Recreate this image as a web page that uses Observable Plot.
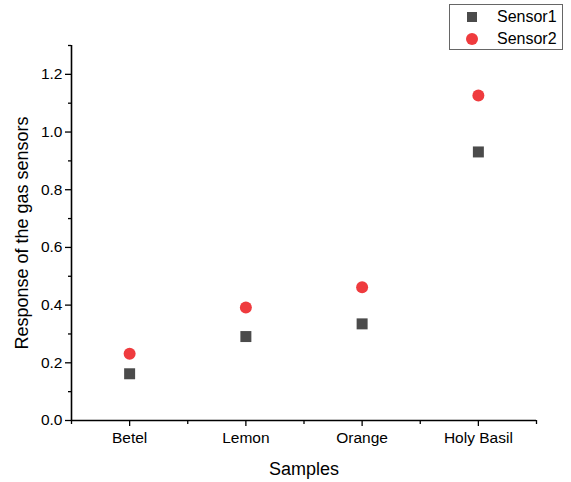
<!DOCTYPE html>
<html>
<head>
<meta charset="utf-8">
<script src="https://cdn.jsdelivr.net/npm/d3@7"></script>
<script src="https://cdn.jsdelivr.net/npm/@observablehq/plot@0.6"></script>
<style>
  body { margin: 0; background: #fff; font-family: "Liberation Sans", Arial, sans-serif; }
  #wrap { position: relative; width: 571px; height: 482px; }
  #legend { position: absolute; left: 449px; top: 4px; width: 114px; height: 46px; border: 1px solid #666; box-sizing: border-box; background: #fff; }
  .item { position: absolute; left: 0; height: 20px; font-size: 16px; line-height: 20px; color: #000; }
  .item svg { position: absolute; left: 15px; top: 3px; }
  .item span { position: absolute; left: 47px; top: 0; white-space: nowrap; }
</style>
</head>
<body>
<div id="wrap"></div>
<script>
const categories = ["Betel", "Lemon", "Orange", "Holy Basil"];
const sensor1 = [0.162, 0.291, 0.335, 0.931];
const sensor2 = [0.231, 0.392, 0.462, 1.127];
const seriesNames = ["Sensor1", "Sensor2"];
const seriesColors = ["#4b4b4b", "#ef3b3e"];
const yMajor = [0, 0.2, 0.4, 0.6, 0.8, 1.0, 1.2];
const yMinor = [0.1, 0.3, 0.5, 0.7, 0.9, 1.1, 1.3];

const idx = categories.map((_, i) => i);
const xMinor = d3.range(-0.5, categories.length, 1);
const font = "Liberation Sans, Arial, sans-serif";

const plot = Plot.plot({
  width: 571,
  height: 482,
  marginLeft: 71,
  marginRight: 35,
  marginTop: 45,
  marginBottom: 62,
  style: { fontFamily: font, fontSize: "15.5px", color: "#000", background: "#fff" },
  x: { type: "linear", domain: [-0.5, categories.length - 0.5] },
  y: { domain: [0, 1.3] },
  marks: [
    Plot.axisX({ ticks: xMinor, tickSize: 4, tickFormat: () => "", label: null, strokeWidth: 1.3 }),
    Plot.axisX({ ticks: idx, tickSize: 6, tickPadding: 5, tickFormat: i => categories[i], label: null, fontSize: 15.5, strokeWidth: 1.3 }),
    Plot.axisY({ ticks: yMinor, tickSize: 3, tickFormat: () => "", label: null, strokeWidth: 1.3 }),
    Plot.axisY({ ticks: yMajor, tickSize: 6, tickPadding: 3, tickFormat: d3.format(".1f"), label: null, fontSize: 15.5, strokeWidth: 1.3 }),
    Plot.ruleY([0], { stroke: "#000", strokeWidth: 1.6 }),
    Plot.ruleX([-0.5], { stroke: "#000", strokeWidth: 1.6 }),
    Plot.dot(idx, { x: d => d, y: d => sensor1[d], symbol: "square", r: 6.2, fill: seriesColors[0], stroke: null }),
    Plot.dot(idx, { x: d => d, y: d => sensor2[d], symbol: "circle", r: 6, fill: seriesColors[1], stroke: null }),
    Plot.text(["Samples"], { frameAnchor: "bottom", dy: 49, fontSize: 18, textAnchor: "middle", lineAnchor: "middle", fill: "#000" }),
    Plot.text(["Response of the gas sensors"], { frameAnchor: "left", dx: -49, rotate: -90, fontSize: 18, textAnchor: "middle", lineAnchor: "middle", fill: "#000" })
  ]
});
const wrap = document.getElementById("wrap");
wrap.appendChild(plot);

const legend = document.createElement("div");
legend.id = "legend";
seriesNames.forEach((name, i) => {
  const item = document.createElement("div");
  item.className = "item";
  item.style.top = (i === 0 ? 2 : 24) + "px";
  const shape = i === 0
    ? `<svg width="14" height="14"><rect x="2" y="2" width="10" height="10" fill="${seriesColors[0]}"/></svg>`
    : `<svg width="14" height="14"><circle cx="7" cy="7" r="6" fill="${seriesColors[1]}"/></svg>`;
  item.innerHTML = shape + `<span>${name}</span>`;
  legend.appendChild(item);
});
wrap.appendChild(legend);
</script>
</body>
</html>
